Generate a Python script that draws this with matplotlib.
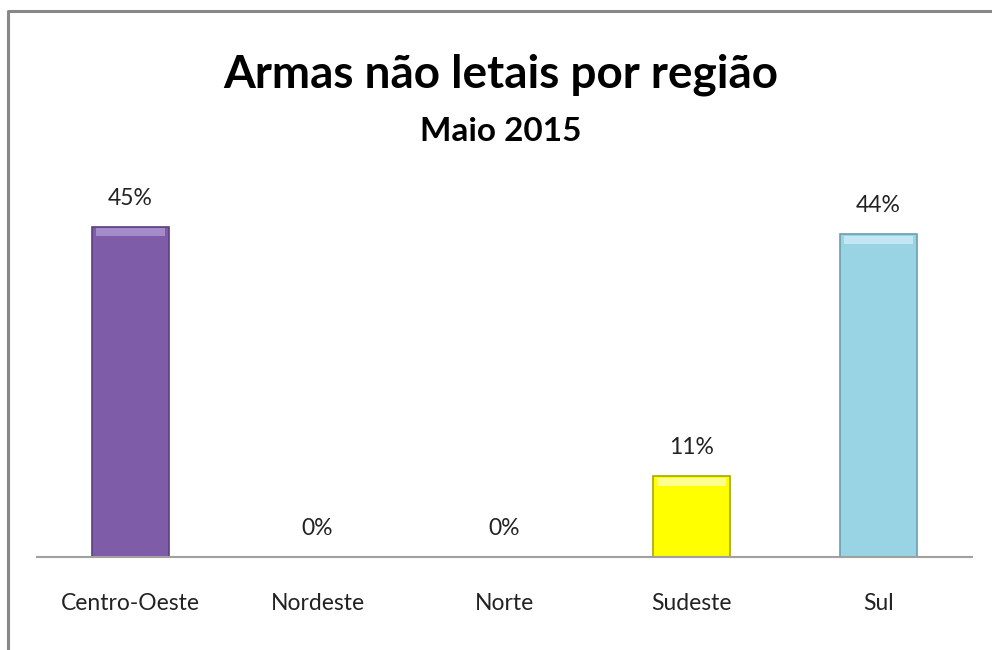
import matplotlib.pyplot as plt
from matplotlib.lines import Line2D

regioes = ['Centro-Oeste', 'Nordeste', 'Norte', 'Sudeste', 'Sul']
valores = [0.45, 0.0, 0.0, 0.11, 0.44]
cores = ['#7E5CA7', '#C0504D', '#9BBB59', '#FFFF00', '#99D4E5']
bordas = ['#5A4080', '#8C3836', '#71893F', '#A8A800', '#6A9FB0']
realce = ['#A68BCB', '#D9807E', '#BCD48A', '#FFFF90', '#C3E8F2']

plt.rcParams['font.family'] = ['Lato', 'DejaVu Sans']

fig = plt.figure(figsize=(9.92, 6.5), dpi=100)
ax = fig.add_axes([37 / 992, 93 / 650, 935 / 992, 367 / 650])

x = range(len(regioes))
ax.bar(x, valores, width=0.41, color=cores, edgecolor=bordas, linewidth=1.2, zorder=2)
# faixa clara no topo para imitar o bisel
ax.bar(x, [0.011 if v > 0 else 0 for v in valores], width=0.37,
       bottom=[v - 0.013 for v in valores], color=realce, linewidth=0, zorder=3)

for i, v in enumerate(valores):
    ax.text(i, v + 0.039, f'{v:.0%}', ha='center', va='center', fontsize=16.5, color='#222222')

ax.set_xlim(-0.5, len(regioes) - 0.5)
ax.set_ylim(0, 0.5)
ax.set_yticks([])
ax.set_xticks(list(x))
ax.set_xticklabels(regioes, fontsize=16.5, color='#222222')
ax.tick_params(axis='x', length=0, pad=26)
for s in ['top', 'right', 'left']:
    ax.spines[s].set_visible(False)
ax.spines['bottom'].set_color('#A0A0A0')
ax.spines['bottom'].set_linewidth(1.5)

fig.text(0.505, 0.885, 'Armas não letais por região', ha='center', va='center',
         fontsize=33, fontweight='bold')
fig.text(0.505, 0.798, 'Maio 2015', ha='center', va='center',
         fontsize=24, fontweight='bold')

# moldura do gráfico
fig.add_artist(Line2D([8 / 992, 8 / 992, 1.0], [0.0, 639 / 650, 639 / 650],
                      transform=fig.transFigure, color='#888888', linewidth=2.2))

fig.savefig('out.png', dpi=100)
